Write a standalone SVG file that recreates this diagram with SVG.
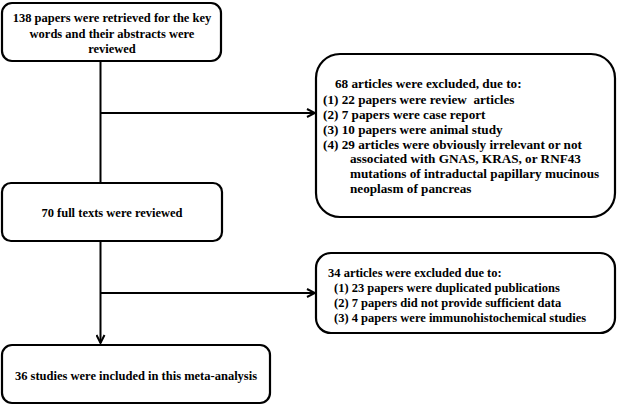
<svg xmlns="http://www.w3.org/2000/svg" width="617" height="405" viewBox="0 0 617 405">
<defs>
<marker id="arr" viewBox="0 0 10 10" refX="9" refY="5" markerWidth="10" markerHeight="10" markerUnits="userSpaceOnUse" orient="auto">
<path d="M1,1 L9,5 L1,9" fill="none" stroke="#000" stroke-width="2"/>
</marker>
</defs>
<style>
.box{fill:#fff;stroke:#000;stroke-width:2.2}
.t{font-family:"Liberation Serif","Times New Roman",serif;font-weight:bold;font-size:12.5px;fill:#000}
.b{font-size:13.2px;white-space:pre}
.c{text-anchor:middle}
.ln{stroke:#000;stroke-width:2;fill:none}
</style>
<rect width="617" height="405" fill="#fff"/>
<g id="connectors">
<line class="ln" x1="100.5" y1="61" x2="100.5" y2="183"/>
<line class="ln" x1="100.5" y1="241" x2="100.5" y2="343" marker-end="url(#arr)"/>
<line class="ln" x1="100.5" y1="113" x2="315" y2="113" marker-end="url(#arr)"/>
<line class="ln" x1="100.5" y1="293" x2="315" y2="293" marker-end="url(#arr)"/>
</g>
<g id="n1">
<rect class="box" x="2" y="3" width="219" height="58" rx="10"/>
<text class="t c" x="112" y="22">138 papers were retrieved for the key</text>
<text class="t c" x="112" y="37.5">words and their abstracts were</text>
<text class="t c" x="112" y="53">reviewed</text>
</g>
<g id="n2">
<rect class="box" x="316" y="54" width="299" height="163" rx="24"/>
<text class="t b" x="335" y="88">68 articles were excluded, due to:</text>
<text class="t b" x="323" y="104" xml:space="preserve">(1) 22 papers were review  articles</text>
<text class="t b" x="323" y="119">(2) 7 papers were case report</text>
<text class="t b" x="323" y="134">(3) 10 papers were animal study</text>
<text class="t b" x="323" y="149">(4) 29 articles were obviously irrelevant or not</text>
<text class="t b" x="350" y="163">associated with GNAS, KRAS, or RNF43</text>
<text class="t b" x="350" y="178">mutations of intraductal papillary mucinous</text>
<text class="t b" x="350" y="193">neoplasm of pancreas</text>
</g>
<g id="n3">
<rect class="box" x="2" y="183" width="220" height="58" rx="9"/>
<text class="t c" x="112" y="217">70 full texts were reviewed</text>
</g>
<g id="n4">
<rect class="box" x="316" y="253" width="299" height="80" rx="15"/>
<text class="t" x="328" y="277">34 articles were excluded due to:</text>
<text class="t" x="334" y="292">(1) 23 papers were duplicated publications</text>
<text class="t" x="334" y="307">(2) 7 papers did not provide sufficient data</text>
<text class="t" x="334" y="322">(3) 4 papers were immunohistochemical studies</text>
</g>
<g id="n5">
<rect class="box" x="2" y="345" width="268" height="58" rx="10"/>
<text class="t c" x="136" y="380">36 studies were included in this meta-analysis</text>
</g>
</svg>
